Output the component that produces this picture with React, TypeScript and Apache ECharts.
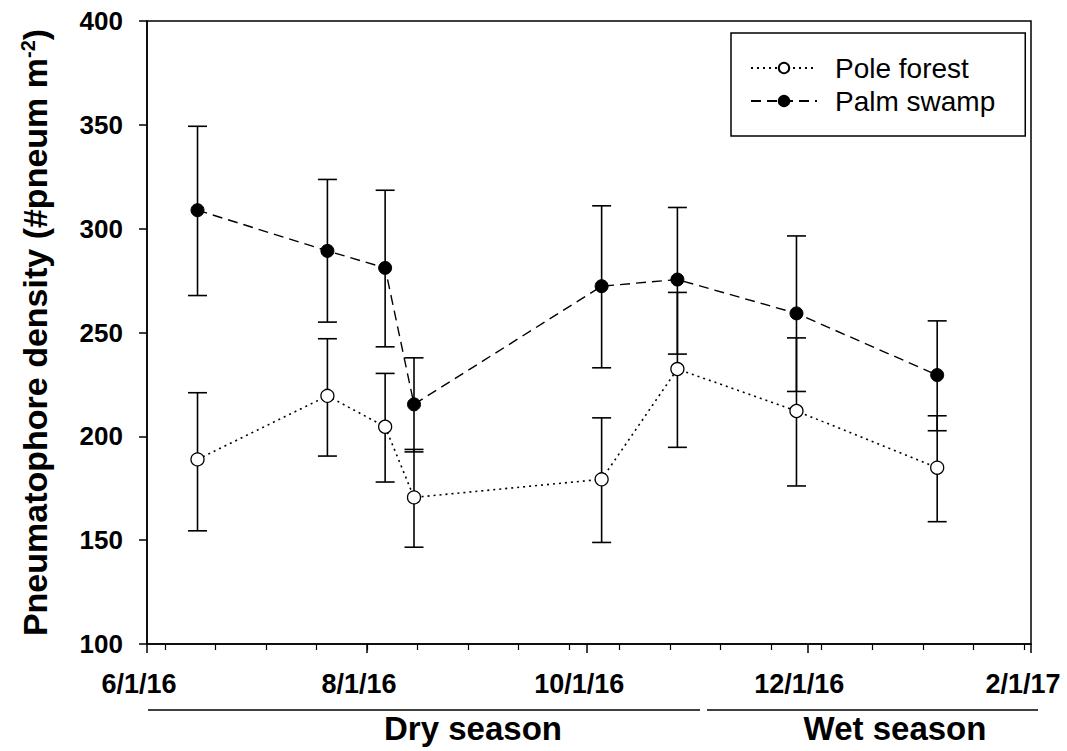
import React, { useEffect, useRef } from "react";
import * as echarts from "echarts";

const FONT = '"Liberation Sans", Arial, Helvetica, sans-serif';

// sampling dates
const sampleDates = [
  "2016-06-15",
  "2016-07-21",
  "2016-08-06",
  "2016-08-14",
  "2016-10-05",
  "2016-10-26",
  "2016-11-28",
  "2017-01-06",
];

// Pole forest
const poleMean = [188.9, 219.5, 204.6, 170.6, 179.3, 232.4, 212.2, 184.9];
const poleHigh = [221.0, 247.0, 230.3, 193.7, 208.9, 269.3, 247.4, 209.9];
const poleLow = [154.5, 190.5, 178.0, 146.6, 148.9, 194.7, 176.1, 158.9];

// Palm swamp
const palmMean = [308.9, 289.3, 281.1, 215.4, 272.3, 275.5, 259.2, 229.5];
const palmHigh = [349.3, 323.7, 318.5, 237.8, 311.0, 310.2, 296.5, 255.6];
const palmLow = [267.8, 255.0, 243.1, 192.5, 233.0, 239.6, 221.6, 202.7];

// x axis ticks
const majorTickDates = ["2016-06-01", "2016-08-01", "2016-10-01", "2016-12-01", "2017-02-01"];
const majorTickLabels = ["6/1/16", "8/1/16", "10/1/16", "12/1/16", "2/1/17"];
const minorTickDates = [
  "2016-06-06", "2016-06-20", "2016-07-04", "2016-07-18", "2016-08-01", "2016-08-15",
  "2016-08-29", "2016-09-12", "2016-09-26", "2016-10-10", "2016-10-24", "2016-11-07",
  "2016-11-21", "2016-12-05", "2016-12-19", "2017-01-02", "2017-01-16", "2017-01-30",
];

const yTicks = [100, 150, 200, 250, 300, 350, 400];

const seriesNames = ["Pole forest", "Palm swamp"];
const seasonLabels = ["Dry season", "Wet season"];

function ts(s: string): number {
  const [y, m, d] = s.split("-").map(Number);
  return Date.UTC(y, m - 1, d);
}

export default function App() {
  const ref = useRef<HTMLDivElement>(null);

  useEffect(() => {
    if (!ref.current) return;
    const chart = echarts.init(ref.current, null, { renderer: "svg" });

    const xs = sampleDates.map(ts);
    const majors = majorTickDates.map(ts);
    const minors = minorTickDates.map(ts);
    const xMin = majors[0];
    const xMax = majors[majors.length - 1];

    const poleLine = xs.map((x, i) => [x, poleMean[i]]);
    const palmLine = xs.map((x, i) => [x, palmMean[i]]);
    const poleErr = xs.map((x, i) => [x, poleLow[i], poleHigh[i]]);
    const palmErr = xs.map((x, i) => [x, palmLow[i], palmHigh[i]]);

    const errRender = (params: any, api: any) => {
      const x = api.value(0);
      const lo = api.coord([x, api.value(1)]);
      const hi = api.coord([x, api.value(2)]);
      const hw = 9.5;
      const style = { stroke: "#000", lineWidth: 1.6 };
      return {
        type: "group",
        children: [
          { type: "line", shape: { x1: lo[0], y1: lo[1], x2: hi[0], y2: hi[1] }, style },
          { type: "line", shape: { x1: lo[0] - hw, y1: lo[1], x2: lo[0] + hw, y2: lo[1] }, style },
          { type: "line", shape: { x1: hi[0] - hw, y1: hi[1], x2: hi[0] + hw, y2: hi[1] }, style },
        ],
      };
    };

    const option: any = {
      animation: false,
      backgroundColor: "#fff",
      grid: {
        left: 147,
        right: 36,
        top: 21,
        bottom: 107,
        show: true,
        borderColor: "#000",
        borderWidth: 1.5,
        backgroundColor: "transparent",
      },
      legend: {
        data: seriesNames,
        orient: "vertical",
        left: 731,
        top: 33,
        padding: [20, 30, 20, 19],
        itemGap: 3,
        itemWidth: 66,
        itemHeight: 13,
        borderColor: "#000",
        borderWidth: 1.5,
        backgroundColor: "#fff",
        textStyle: {
          fontFamily: FONT,
          fontSize: 28,
          color: "#000",
          padding: [0, 0, 0, 13],
          lineHeight: 30,
        },
      },
      xAxis: [
        {
          type: "value",
          min: xMin,
          max: xMax,
          position: "bottom",
          axisLine: { show: true, lineStyle: { color: "#000", width: 1.5 } },
          axisTick: {
            show: true,
            inside: false,
            length: 9,
            customValues: majors,
            lineStyle: { color: "#000", width: 1.5 },
          },
          axisLabel: {
            customValues: majors,
            formatter: (v: number) => {
              const i = majors.indexOf(v);
              return i >= 0 ? majorTickLabels[i] : "";
            },
            fontFamily: FONT,
            fontSize: 27,
            fontWeight: "bold",
            color: "#000",
            margin: 26,
            padding: [0, 16, 0, 0],
          },
          splitLine: { show: false },
        },
        {
          type: "value",
          min: xMin,
          max: xMax,
          position: "bottom",
          axisLine: { show: false },
          axisTick: {
            show: true,
            inside: false,
            length: 6,
            customValues: minors,
            lineStyle: { color: "#000", width: 1.2 },
          },
          axisLabel: { show: false },
          splitLine: { show: false },
        },
      ],
      yAxis: {
        type: "value",
        min: yTicks[0],
        max: yTicks[yTicks.length - 1],
        interval: 50,
        name: "Pneumatophore density (#pneum m{sup|-2})",
        nameLocation: "middle",
        nameGap: 95,
        nameTextStyle: {
          fontFamily: FONT,
          fontSize: 34,
          fontWeight: "bold",
          color: "#000",
          rich: {
            sup: {
              fontFamily: FONT,
              fontSize: 20,
              fontWeight: "bold",
              color: "#000",
              verticalAlign: "top",
              lineHeight: 20,
            },
          },
        },
        axisLine: { show: true, lineStyle: { color: "#000", width: 1.5 } },
        axisTick: { show: true, inside: false, length: 8, lineStyle: { color: "#000", width: 1.5 } },
        axisLabel: {
          fontFamily: FONT,
          fontSize: 26,
          fontWeight: "bold",
          color: "#000",
          margin: 24,
        },
        splitLine: { show: false },
      },
      series: [
        {
          name: "Pole forest error",
          type: "custom",
          xAxisIndex: 0,
          renderItem: errRender,
          data: poleErr,
          z: 1,
          silent: true,
        },
        {
          name: "Palm swamp error",
          type: "custom",
          xAxisIndex: 0,
          renderItem: errRender,
          data: palmErr,
          z: 1,
          silent: true,
        },
        {
          name: seriesNames[0],
          type: "line",
          xAxisIndex: 0,
          data: poleLine,
          symbol: "circle",
          symbolSize: 13,
          lineStyle: { color: "#000", width: 1.6, type: [2, 4] },
          itemStyle: { color: "#fff", borderColor: "#000", borderWidth: 1.3 },
          z: 3,
        },
        {
          name: seriesNames[1],
          type: "line",
          xAxisIndex: 0,
          data: palmLine,
          symbol: "circle",
          symbolSize: 13,
          lineStyle: { color: "#000", width: 1.4, type: [10, 6] },
          itemStyle: { color: "#000", borderColor: "#000", borderWidth: 1 },
          z: 3,
        },
      ],
      graphic: [
        {
          type: "line",
          shape: { x1: 148, y1: 710, x2: 700, y2: 710 },
          style: { stroke: "#000", lineWidth: 1.5 },
        },
        {
          type: "line",
          shape: { x1: 707, y1: 710, x2: 1038, y2: 710 },
          style: { stroke: "#000", lineWidth: 1.5 },
        },
        {
          type: "text",
          x: 473,
          y: 728,
          style: {
            text: seasonLabels[0],
            font: `bold 33px ${FONT}`,
            fill: "#000",
            textAlign: "center",
            textVerticalAlign: "middle",
          },
        },
        {
          type: "text",
          x: 895,
          y: 728,
          style: {
            text: seasonLabels[1],
            font: `bold 33px ${FONT}`,
            fill: "#000",
            textAlign: "center",
            textVerticalAlign: "middle",
          },
        },
      ],
    };

    chart.setOption(option);
    return () => {
      chart.dispose();
    };
  }, []);

  return (
    <div
      ref={ref}
      style={{ width: 1067, height: 751, position: "absolute", left: 0, top: 0, background: "#fff" }}
    />
  );
}
